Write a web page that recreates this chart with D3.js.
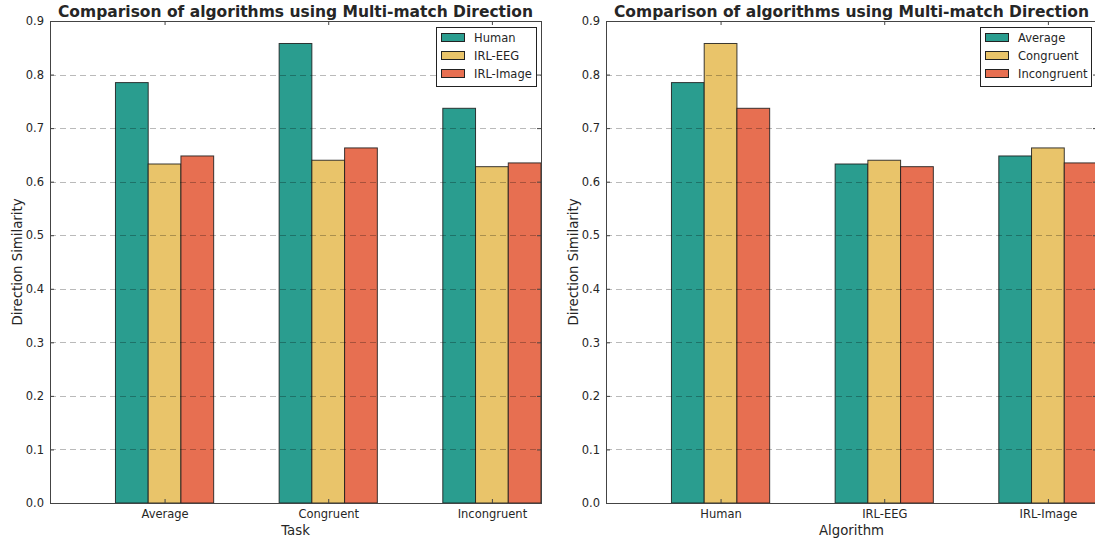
<!DOCTYPE html>
<html>
<head>
<meta charset="utf-8">
<script src="https://cdn.jsdelivr.net/npm/d3@7"></script>
<style>
  body { margin: 0; background: #fff; }
  svg { display: block; }
  text { font-family: "DejaVu Sans", sans-serif; fill: #262626; }
</style>
</head>
<body>
<svg id="chart" width="1095" height="541"></svg>
<script>
// ---- Data ----
const tasks = ["Average", "Congruent", "Incongruent"];
const algorithms = ["Human", "IRL-EEG", "IRL-Image"];
// values per algorithm, ordered by task
const humanValues = [0.785, 0.858, 0.737];
const irlEegValues = [0.633, 0.640, 0.628];
const irlImageValues = [0.648, 0.663, 0.635];
const yTicks = [0.0, 0.1, 0.2, 0.3, 0.4, 0.5, 0.6, 0.7, 0.8, 0.9];
const colors = ["#2a9d8f", "#e9c46a", "#e76f51"];
const titleText = "Comparison of algorithms using Multi-match Direction";
const yLabel = "Direction Similarity";

const byAlgo = [humanValues, irlEegValues, irlImageValues];

// Left: categories = tasks, series = algorithms
const leftSeries = algorithms.map((a, si) => ({ name: a, values: byAlgo[si] }));
// Right: categories = algorithms, series = tasks
const rightSeries = tasks.map((t, ti) => ({ name: t, values: byAlgo.map(v => v[ti]) }));

const svg = d3.select("#chart");

function drawPanel(opts) {
  const { left, top, width, height, categories, series, xLabel } = opts;
  const g = svg.append("g").attr("transform", `translate(${left},${top})`);
  const nS = series.length;
  const barW = 0.2;
  const x = d3.scaleLinear().domain([-0.7, categories.length - 0.7]).range([0, width]);
  const y = d3.scaleLinear().domain([0, 0.9]).range([height, 0]);

  // Bars
  series.forEach((s, si) => {
    g.selectAll(null).data(s.values).enter().append("rect")
      .attr("x", (d, i) => x(i + (si - (nS - 1) / 2) * barW - barW / 2))
      .attr("width", x(barW) - x(0))
      .attr("y", d => y(d))
      .attr("height", d => y(0) - y(d))
      .attr("fill", colors[si])
      .attr("stroke", "#1a1a1a")
      .attr("stroke-opacity", 0.85)
      .attr("stroke-width", 1);
  });

  // Grid (on top)
  g.selectAll(null).data(yTicks.slice(1, -1)).enter().append("line")
    .attr("x1", 0).attr("x2", width)
    .attr("y1", d => Math.round(y(d)) + 0.5).attr("y2", d => Math.round(y(d)) + 0.5)
    .attr("stroke", "#000").attr("stroke-opacity", 0.27)
    .attr("stroke-dasharray", "6,4").attr("stroke-width", 1);

  // Axes
  const yAxisL = d3.axisLeft(y).tickValues(yTicks).tickFormat(d3.format(".1f")).tickSizeInner(-4).tickSizeOuter(0).tickPadding(6);
  const yAxisR = d3.axisRight(y).tickValues(yTicks).tickFormat("").tickSizeInner(-4).tickSizeOuter(0);
  const xAxisB = d3.axisBottom(x).tickValues(d3.range(categories.length)).tickFormat(i => categories[i]).tickSizeInner(-4).tickSizeOuter(0).tickPadding(7);
  const xAxisT = d3.axisTop(x).tickValues(d3.range(categories.length)).tickFormat("").tickSizeInner(-4).tickSizeOuter(0);

  const axes = [
    g.append("g").call(yAxisL),
    g.append("g").attr("transform", `translate(${width},0)`).call(yAxisR),
    g.append("g").attr("transform", `translate(0,${height})`).call(xAxisB),
    g.append("g").call(xAxisT)
  ];
  axes.forEach(a => {
    a.select(".domain").remove();
    a.selectAll(".tick line").attr("stroke", "#444");
    a.selectAll(".tick text").attr("font-size", 11.5).attr("fill", "#262626")
      .style("font-family", '"DejaVu Sans", sans-serif');
  });

  // Spines
  g.append("rect").attr("x", 0.5).attr("y", 0.5).attr("width", width).attr("height", height)
    .attr("fill", "none").attr("stroke", "#444").attr("stroke-width", 1);

  // Title
  g.append("text").attr("x", width / 2).attr("y", -4).attr("text-anchor", "middle")
    .attr("font-size", 15.5).attr("font-weight", "bold").attr("fill", "#000").text(titleText);

  // Axis labels
  g.append("text").attr("x", width / 2).attr("y", height + 32).attr("text-anchor", "middle")
    .attr("font-size", 13.3).text(xLabel);
  g.append("text").attr("transform", `translate(${-28},${height / 2}) rotate(-90)`)
    .attr("text-anchor", "middle").attr("font-size", 13.3).text(yLabel);

  // Legend
  const lg = g.append("g").attr("transform", `translate(${opts.legendX},6)`);
  lg.append("rect").attr("x", 0.5).attr("y", 0.5).attr("width", opts.legendW).attr("height", 59)
    .attr("fill", "#fff").attr("stroke", "#222").attr("stroke-width", 1);
  series.forEach((s, si) => {
    const cy = 10.5 + si * 18;
    lg.append("rect").attr("x", 5.5).attr("y", cy - 4).attr("width", 23).attr("height", 8)
      .attr("fill", colors[si]).attr("stroke", "#222").attr("stroke-width", 1);
    lg.append("text").attr("x", 38).attr("y", cy).attr("dy", "0.35em")
      .attr("font-size", 11.5).text(s.name);
  });
}

drawPanel({ left: 50, top: 21, width: 491, height: 482, categories: tasks, series: leftSeries,
  xLabel: "Task", legendX: 386, legendW: 100 });
drawPanel({ left: 606, top: 21, width: 491, height: 482, categories: algorithms, series: rightSeries,
  xLabel: "Algorithm", legendX: 374, legendW: 111 });
</script>
</body>
</html>
